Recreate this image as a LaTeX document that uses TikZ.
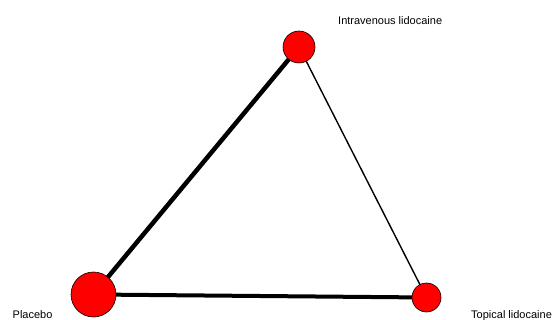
\documentclass[tikz,border=0pt]{standalone}
\usepackage{fontspec}
\setmainfont{Liberation Sans}
\usetikzlibrary{backgrounds}
\begin{document}
\begin{tikzpicture}[x=1pt,y=-1pt,
  trt/.style={circle,draw=black,line width=0.6pt,fill=red,inner sep=0pt},
  lbl/.style={anchor=west,inner sep=0pt,font=\fontsize{11}{13}\selectfont},
  thickedge/.style={line width=4.5pt},
  thinedge/.style={line width=1.4pt}]
\useasboundingbox (0,0) rectangle (556,320);
\node[trt,minimum size=32pt] (iv) at (299,47) {};
\node[trt,minimum size=45pt] (pl) at (93.5,294.5) {};
\node[trt,minimum size=29pt] (tp) at (426.5,297.5) {};
\begin{pgfonlayer}{background}
\fill[white] (0,0) rectangle (556,320);
\draw[thickedge] (iv.center) -- (pl.center);
\draw[line width=4pt] (pl.center) -- (tp.center);
\draw[thinedge] (iv.center) -- (tp.center);
\end{pgfonlayer}
\node[lbl] (ivl) at (338,21) {Intravenous lidocaine};
\node[lbl] (pll) at (12.5,315) {Placebo};
\node[lbl] (tpl) at (471,315.5) {Topical lidocaine};
\end{tikzpicture}
\end{document}
